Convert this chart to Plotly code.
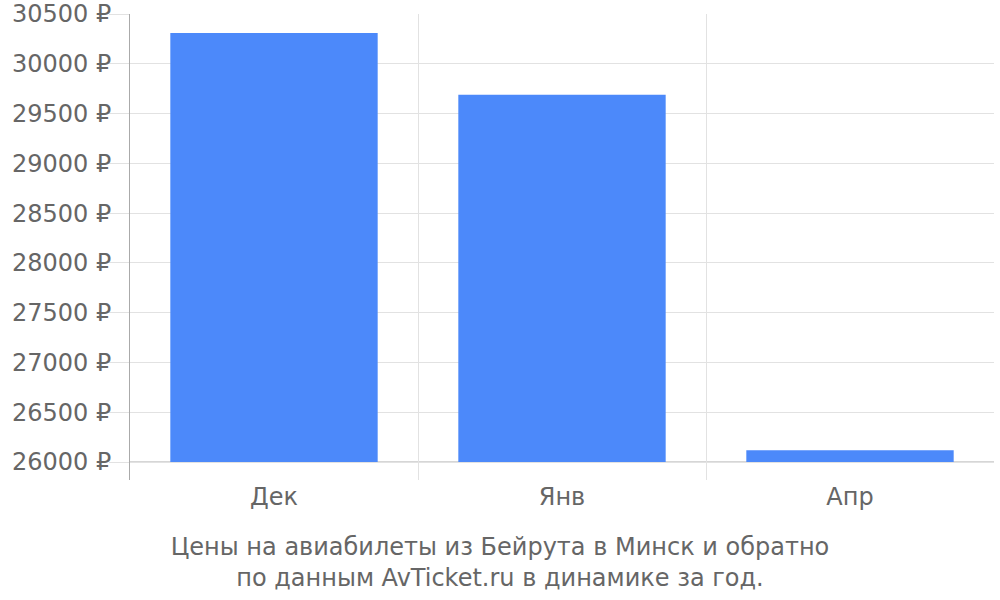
import numpy as np
import plotly.graph_objs as go

# data
months = ['Дек', 'Янв', 'Апр']
prices = [30310, 29690, 26120]
base_price = 26000
caption = ('Цены на авиабилеты из Бейрута в Минск и обратно<br>'
           'по данным AvTicket.ru в динамике за год.')

grey_text = '#666666'
grid = '#e2e2e2'

heights = np.array(prices) - base_price

bars = go.Bar(
    x=months,
    y=heights,
    base=base_price,
    marker=dict(color='#4c89fa', line=dict(width=0)),
    width=0.72,
)

layout = go.Layout(
    width=1000,
    height=600,
    autosize=False,
    margin=dict(l=130, r=6, t=14, b=120),
    paper_bgcolor='white',
    plot_bgcolor='white',
    font=dict(family='DejaVu Sans', size=24, color=grey_text),
    showlegend=False,
    title=dict(
        text=caption,
        font=dict(size=24, color=grey_text),
        xref='container', x=0.5, xanchor='center',
        yref='container', y=0.075, yanchor='middle',
    ),
    xaxis=dict(
        type='category',
        tickson='boundaries',
        showgrid=True,
        gridcolor=grid,
        gridwidth=1,
        ticks='',
        showline=False,
        zeroline=False,
        automargin=False,
        tickfont=dict(size=24, color=grey_text),
    ),
    yaxis=dict(
        range=[25820, 30500],
        tick0=26000,
        dtick=500,
        tickformat='d',
        ticksuffix=' ₽',
        showgrid=True,
        gridcolor=grid,
        ticks='outside',
        ticklen=20,
        tickcolor=grid,
        ticklabelstandoff=-7,
        showline=True,
        linecolor='#aaaaaa',
        linewidth=1,
        zeroline=False,
        automargin=False,
        tickfont=dict(size=24, color=grey_text),
    ),
    shapes=[dict(
        type='line', xref='paper', yref='y',
        x0=0, x1=1, y0=base_price, y1=base_price,
        line=dict(color='#c8c8c8', width=1.5),
        layer='below',
    )],
)

fig = go.Figure(data=[bars], layout=layout)
# drop the browser's default body margin so the chart sits at the page corner
fig.write_html('out.html', config={'displayModeBar': False},
               post_script="document.body.style.margin='0';")
